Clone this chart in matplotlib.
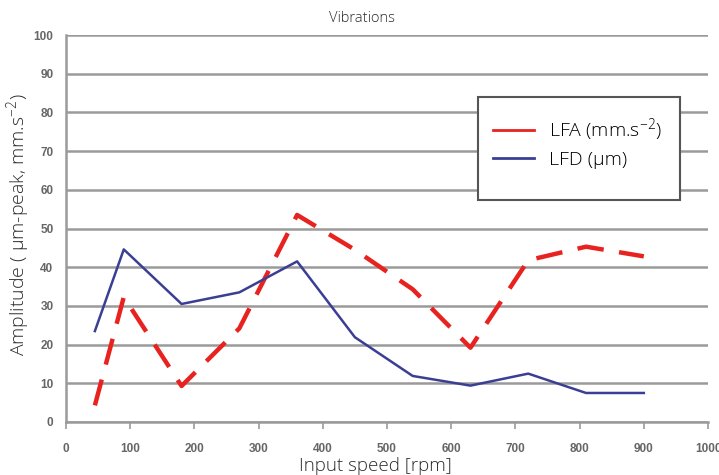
import numpy as np
import matplotlib.pyplot as plt
from matplotlib.lines import Line2D
from matplotlib.patches import Rectangle

# Drehzahl und Amplituden
drehzahl = [45, 90, 180, 270, 360, 450, 540, 630, 720, 810, 900]
lfa = [4.3, 32.3, 9.3, 24.2, 53.5, 44.5, 34.3, 19.2, 41.8, 45.3, 42.8]
lfd = [23.5, 44.6, 30.5, 33.5, 41.5, 21.9, 11.9, 9.4, 12.5, 7.5, 7.5]

x_ticks = list(range(0, 1001, 100))
y_ticks = list(range(0, 101, 10))

rot = '#e8231f'
blau = '#3b3f94'
grau = '#9a9a9a'
schrift = 'Open Sans'
text_farbe = '#2b2b2b'

fig = plt.figure(figsize=(7.19, 4.75), dpi=100)
ax = fig.add_axes([66 / 719, 1 - 422 / 475, 642 / 719, 387 / 475])

for y in y_ticks:
    ax.axhline(y, color=grau, lw=1.8, zorder=1)

ax.plot(drehzahl, lfa, color=rot, lw=3.2, dashes=(6, 3.5), zorder=3)
ax.plot(drehzahl, lfd, color=blau, lw=1.8, zorder=3)

ax.set_xlim(0, 1000)
ax.set_ylim(0, 100)
ax.set_xticks(x_ticks)
ax.set_yticks(y_ticks)
ax.tick_params(axis='x', length=5, width=1.2, color=grau, pad=10,
               labelsize=8.5, labelcolor='#666666')
ax.tick_params(axis='y', length=0, pad=9, labelsize=8.5, labelcolor='#666666')
for lab in ax.get_xticklabels() + ax.get_yticklabels():
    lab.set_family('Liberation Sans')
    lab.set_weight('bold')

for s in ['top', 'right']:
    ax.spines[s].set_visible(False)
for s in ['left', 'bottom']:
    ax.spines[s].set_color(grau)
    ax.spines[s].set_linewidth(1.8)

fig.text(362 / 719, 1 - 18 / 475, 'Vibrations', family=schrift, weight='light',
         fontsize=10.5, color=text_farbe, ha='center', va='center')
fig.text(375 / 719, 1 - 466 / 475, 'Input speed [rpm]', family=schrift,
         weight='light', fontsize=13.5, color=text_farbe, ha='center', va='center')
fig.text(19 / 719, 1 - 225 / 475, r'Amplitude ( µm-peak, mm.s$^{\mathregular{-2}}$)',
         family=schrift, weight='light', fontsize=14, color=text_farbe,
         ha='center', va='center', rotation=90)

# Legendenkasten
kasten = Rectangle((478 / 719, 1 - 200 / 475), 202 / 719, 103 / 475,
                   transform=fig.transFigure, facecolor='white',
                   edgecolor='#555555', lw=1.5, zorder=4)
fig.patches.append(kasten)
griffe = [Line2D([], [], color=rot, lw=2), Line2D([], [], color=blau, lw=2)]
fig.legend(griffe, [r'LFA (mm.s$^{\mathregular{-2}}$)', 'LFD (µm)'],
           loc='upper left', bbox_to_anchor=(475 / 719, 1 - 99 / 475),
           frameon=False, handlelength=2.15, handletextpad=0.75,
           labelspacing=0.35,
           prop={'family': schrift, 'weight': 'light', 'size': 14})

fig.savefig('out.png', dpi=100)
